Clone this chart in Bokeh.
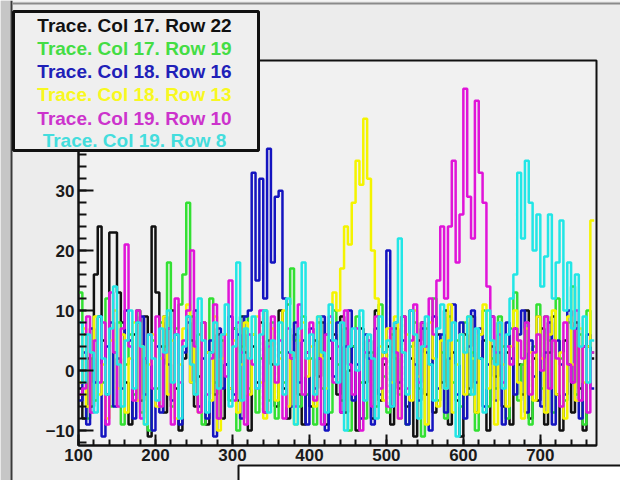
import numpy as np
from bokeh.plotting import figure
from bokeh.models import FixedTicker, BoxAnnotation, Label, Range1d
from bokeh.embed import file_html
from bokeh.resources import INLINE

# ---------------- data ----------------
BIN_START = 100
BIN_WIDTH = 5

trace_names = ["Trace. Col 17. Row 22", "Trace. Col 17. Row 19", "Trace. Col 18. Row 16",
               "Trace. Col 18. Row 13", "Trace. Col 19. Row 10", "Trace. Col 19. Row 8"]

col17_row22 = [-3, -8, 2, -6, 16, 24, 5, -4, 23, 23, 13, 8, -2, -9, 6, 10, -5, 9, -11, 24,
               13, 4, -7, 7, 10, -3, -10, 2, 9, 5, -6, -1, 8, -9, 3, -4, 6, -8, 1, -3,
               7, -5, 9, 3, -10, 4, -2, 8, -7, 5, 1, -6, 10, -3, -8, 2, 6, -4, -9, 3,
               -6, 5, -1, 8, -9, 2, 6, -4, 9, -7, 0, 4, -10, 7, -2, 3, -8, 10, -5, 1,
               4, -9, 7, -3, 9, -6, 2, -11, 5, 8, -4, 1, -7, 6, -2, 10, -9, 3, -5, -11,
               6, -3, 9, -7, 2, 5, -10, 4, -1, 8, -6, 3, -9, 7, 1, -4, 10, -8, 2, -5,
               7, -9, 3, 9, -4, -10, 5, 1, -7, 8, -3, -10, 4, 2]

col17_row19 = [13, 6, -8, 2, -5, 9, -2, 12, -6, 3, 8, -9, 1, 6, -4, 10, -7, 2, -10, 5,
               -3, 8, 4, 18, -6, 7, 11, 16, 28, 9, -4, 6, -9, 3, 12, -2, -8, 5, 1, -5,
               7, -10, 4, 9, -3, 6, -7, 2, 10, -5, 8, -8, 3, -2, 11, 17, 5, -6, 9, -4,
               2, -9, 8, -3, 6, -7, 10, 1, -5, 7, -10, 4, 9, -2, -8, 5, 3, -6, 11, -1,
               -7, 6, 2, -4, 9, -9, 4, 8, -3, -11, 7, 1, 12, -5, 3, -8, 9, -2, 5, -6,
               8, -4, 3, -10, 6, 10, -6, 2, -3, 9, 4, -8, 7, 13, -5, 1, 8, -9, 4, 11,
               -3, 9, 5, -7, 12, 2, -5, 8, 14, -4, 6, -9, 10, 3]

col18_row16 = [-5, 3, -9, 7, -2, 9, -11, 4, 8, -6, 2, -3, 10, 5, -8, 8, 9, -4, 6, -10,
               4, -7, 9, 1, -5, 6, -9, 3, 8, -2, 10, -6, 2, -8, 5, -11, 7, -3, 1, 9,
               -4, 6, -8, 9, 10, 33, 15, 32, 12, 37, 18, 29, 30, 12, 3, -6, 8, -2, 5, -9,
               7, -3, 2, 9, -10, 5, -1, 8, -7, 4, 10, -5, 1, -8, 6, 2, -9, 7, -4, 3,
               20, -6, 8, -2, 5, -9, 10, 1, -5, 7, 3, -10, 9, -3, 6, -7, 2, 11, -4, 8,
               -8, 4, 10, -2, 7, -6, 1, 9, -5, 3, -9, 8, 2, -4, 6, 10, -7, 5, -1, 9,
               -6, 3, 8, -9, 5, 1, -4, 10, -2, 7, -8, 4, 6, -3]

col18_row13 = [-2, 7, -6, 3, 9, -4, 1, -8, 5, 10, -3, 6, -7, 2, 8, -5, 4, -9, 1, 6,
               -6, 2, 9, -4, 5, -8, 1, 7, 11, -2, 4, -7, 8, 3, -5, 9, -10, 2, 6, -3,
               5, -7, 1, 8, -4, 6, 9, -2, -8, 4, 7, -5, 2, 10, -6, 3, -9, 5, 8, -1,
               4, -6, 9, 2, -3, 8, 13, 10, 17, 24, 21, 28, 35, 31, 42, 32, 20, 12, 4, -5,
               7, -2, 9, -8, 3, 6, -5, 10, -1, 4, -9, 8, 2, -6, 5, -3, 11, -7, 1, 6,
               -4, 9, 2, -7, 6, 11, -3, 5, -9, 8, 1, -6, 4, 10, -2, -8, 7, 3, -5, 9,
               2, -7, 6, 10, -4, 3, -8, 9, 1, -5, 7, -2, 4, 25]

col19_row10 = [-4, -3, 9, -7, 5, -2, 8, -9, 13, 3, -6, 7, 21, 4, -5, 10, -8, 2, 6, -3,
               9, -6, 3, 7, -9, 12, -2, 5, 10, 20, 4, -7, 8, -4, 2, 11, -8, 6, -1, 15,
               -5, 8, 3, -9, 6, 1, -3, 10, -7, 4, 9, -2, 5, -8, 7, 2, -6, 11, -4, 3,
               8, -5, 2, -9, 6, 9, -2, 4, -7, 10, 1, -4, 7, -10, 3, 5, -6, 9, -3, 2,
               -6, 7, 3, -8, 9, -3, 5, 11, -2, 8, 4, 12, 6, 15, 24, 12, 24, 35, 18, 26,
               47, 29, 22, 45, 33, 28, 14, 9, 3, 6, -2, 4, 1, 7, 5, 2, 8, -4, 3, 6,
               0, 9, -3, 5, 2, -6, 8, 1, -2, 10, -5, 4, -7, 3]

col19_row8 = [8, -2, 6, 3, -7, 9, 2, -4, 7, 14, 1, -6, 5, 10, -3, 8, 4, -9, 6, 2,
              -5, 7, 3, 10, -2, 6, -8, 4, 9, 1, -4, 12, 5, -7, 3, 8, -3, 6, 11, -6,
              4, 18, -5, 7, 2, 9, -3, 6, 10, -7, 5, 1, 8, -4, 12, 3, -9, 7, 18, 2,
              6, -4, 9, 3, -7, 11, 5, -2, 8, -10, 4, 7, 0, 10, -5, 6, 2, -8, 9, 3,
              5, -6, 8, 22, 3, -4, 10, 6, -8, 4, 9, 1, -5, 7, 11, -3, 5, 8, -11, 6,
              3, 9, -4, 7, 2, -7, 10, 5, 1, 8, -3, 6, 12, 16, 33, 22, 35, 28, 20, 26,
              14, 19, 26, 12, 18, 25, 10, 18, 7, 16, 4, 9, -2, 5]

traces = [col17_row22, col17_row19, col18_row16, col18_row13, col19_row10, col19_row8]
line_colors = ["#111111", "#33e033", "#1414c0", "#f4f400", "#e014d8", "#22e6e6"]
text_colors = ["#111111", "#44dd44", "#2020b8", "#f8f820", "#cc33cc", "#44dddd"]

x_ticks = [100, 200, 300, 400, 500, 600, 700]
y_ticks = [-10, 0, 10, 20, 30, 40, 50]
XMIN, XMAX = 100, 773
YMIN, YMAX = -12.5, 51.7

# ---------------- layout (canvas pixels) ----------------
W, H = 620, 480
FL, FR, FT, FB = 78, 596, 60, 445          # the histogram frame
kx = (XMAX - XMIN) / (FR - FL)
ky = (YMAX - YMIN) / (FB - FT)

p = figure(width=W, height=H, output_backend="svg", toolbar_location=None, title=None,
           x_range=Range1d(XMIN - FL * kx, XMAX + (W - FR) * kx),
           y_range=Range1d(YMIN - (H - FB) * ky, YMAX + FT * ky),
           min_border=0)

p.background_fill_color = "#ececec"
p.border_fill_color = "#ececec"
p.outline_line_color = None
p.grid.visible = False

# frame of the histogram pad
p.add_layout(BoxAnnotation(left=XMIN, right=XMAX, bottom=YMIN, top=YMAX, level="underlay",
                           fill_color="#f1f1f1", fill_alpha=1.0,
                           line_color="#111111", line_width=2, line_alpha=1.0))

for vals, col in zip(traces, line_colors):
    n = len(vals)
    edges = BIN_START + BIN_WIDTH * np.arange(n + 1)
    ys = list(vals) + [vals[-1]]
    p.step(x=edges, y=ys, mode="after", line_color=col, line_width=2.5)

FONT = "Liberation Sans"
for ax in (p.xaxis[0], p.yaxis[0]):
    ax.axis_line_width = 2
    ax.axis_line_color = "#111111"
    ax.major_tick_line_width = 2
    ax.minor_tick_line_width = 2
    ax.major_tick_line_color = "#111111"
    ax.minor_tick_line_color = "#111111"
    ax.major_tick_out = 0
    ax.minor_tick_out = 0
    ax.major_label_text_font = FONT
    ax.major_label_text_font_style = "bold"
    ax.major_label_text_font_size = "17px"
    ax.major_label_text_color = "#1a1a1a"

p.xaxis.fixed_location = YMIN
p.yaxis.fixed_location = XMIN
p.xaxis.bounds = (XMIN, XMAX)
p.yaxis.bounds = (YMIN, YMAX)
p.xaxis.ticker = FixedTicker(ticks=x_ticks, minor_ticks=list(range(100, 774, 20)))
p.yaxis.ticker = FixedTicker(ticks=y_ticks, minor_ticks=list(range(-12, 52, 2)))
p.xaxis.major_tick_in = 11
p.xaxis.minor_tick_in = 6
p.yaxis.major_tick_in = 15
p.yaxis.minor_tick_in = 8
p.xaxis.major_label_standoff = 3
p.yaxis.major_label_standoff = 4


def box(l, t, r, b, fill, line=None, lw=0):
    ba = BoxAnnotation(left=l, right=r, top=H - t, bottom=H - b,
                       left_units="screen", right_units="screen",
                       top_units="screen", bottom_units="screen",
                       fill_color=fill, fill_alpha=1.0,
                       line_color=line, line_width=lw, line_alpha=1.0 if line else 0.0)
    p.add_layout(ba)


# canvas decorations
box(0, 0, 10, H, "#c6c6c6")
box(10, 0, 12, H, "#3a3a3a")
box(12, 2, W, 4, "#8a8a8a")
box(238, 465, W + 20, H + 20, "#ffffff", "#111111", 2)
# legend box
box(13, 11, 258, 150, "#efefef", "#111111", 3)

legend_y = [25, 48, 71, 94, 118, 140]
for name, col, yy in zip(trace_names, text_colors, legend_y):
    p.add_layout(Label(x=134, y=H - yy, x_units="screen", y_units="screen",
                       text=name, text_align="center", text_baseline="middle",
                       text_font=FONT, text_font_style="bold", text_font_size="19px",
                       text_color=col))

open("out.html", "w").write(file_html(p, INLINE))
